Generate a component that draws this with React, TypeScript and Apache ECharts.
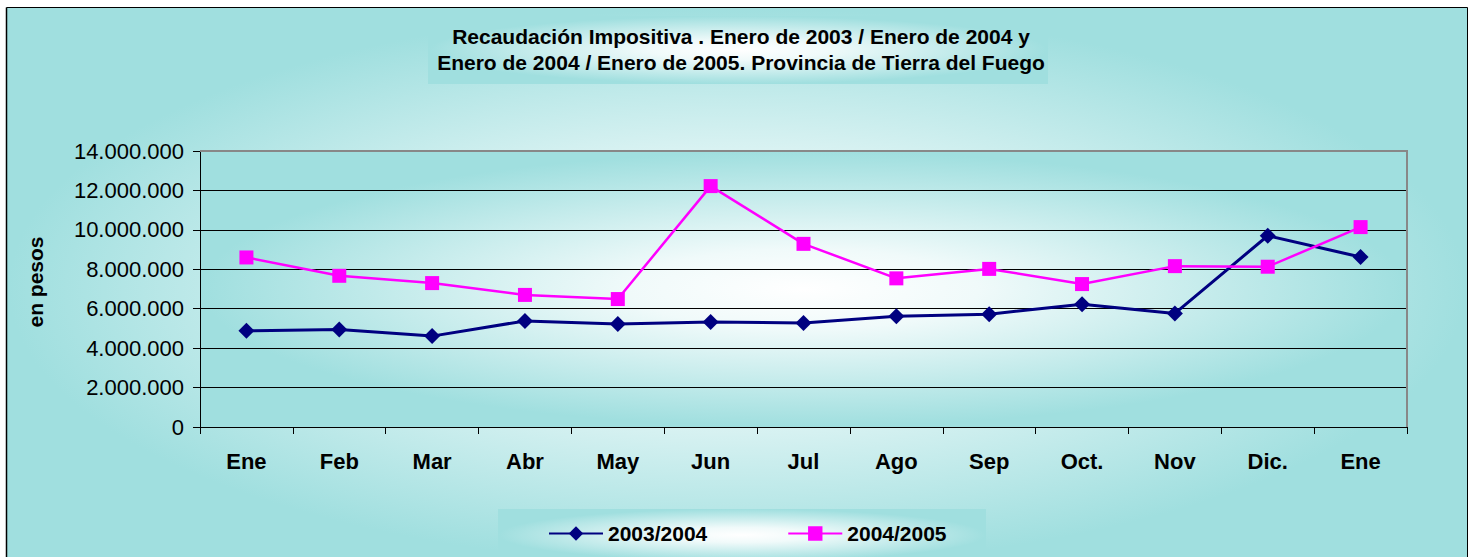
import React, { useEffect, useRef } from "react";
import * as echarts from "echarts";

const categories = ["Ene", "Feb", "Mar", "Abr", "May", "Jun", "Jul", "Ago", "Sep", "Oct.", "Nov", "Dic.", "Ene"];
const serie2003: number[] = [4880000, 4950000, 4610000, 5380000, 5220000, 5330000, 5280000, 5620000, 5720000, 6230000, 5760000, 9700000, 8620000];
const serie2004: number[] = [8600000, 7670000, 7300000, 6700000, 6490000, 12220000, 9290000, 7540000, 8020000, 7250000, 8160000, 8130000, 10140000];
const seriesNames = ["2003/2004", "2004/2005"];
const titleLines = [
  "Recaudación Impositiva . Enero de 2003 / Enero de 2004 y",
  "Enero de 2004 / Enero de 2005. Provincia de Tierra del Fuego",
];
const yAxisName = "en pesos";

const FONT = "'Liberation Sans', Arial, sans-serif";
const TEAL = "#a0dfdf";

function fmt(v: number): string {
  return Math.round(v).toString().replace(/\B(?=(\d{3})+(?!\d))/g, ".");
}

// rectangle with a stretched (elliptical) radial gradient, white at centre
function gradRect(x: number, y: number, w: number, h: number, z: number) {
  const s = w / h;
  return {
    type: "rect",
    x,
    y,
    scaleX: s,
    z,
    silent: true,
    shape: { x: 0, y: 0, width: h, height: h },
    style: {
      fill: {
        type: "radial",
        x: 0.5,
        y: 0.5,
        r: 0.58,
        colorStops: [
          { offset: 0, color: "#ffffff" },
          { offset: 0.25, color: "#f0fafa" },
          { offset: 0.86, color: TEAL },
          { offset: 1, color: TEAL },
        ],
      },
      stroke: "none",
    },
  };
}

export default function App() {
  const ref = useRef<HTMLDivElement>(null);
  useEffect(() => {
    if (!ref.current) return;
    const chart = echarts.init(ref.current, null, { renderer: "svg" });
    const gl = 200, gt = 151, gw = 1207, gh = 276;
    chart.setOption({
      animation: false,
      textStyle: { fontFamily: FONT },
      graphic: [
        gradRect(6.5, 7.5, 1461, 560, -30),
        { type: "line", z: -20, silent: true, shape: { x1: 6.5, y1: 7.5, x2: 1467.5, y2: 7.5 }, style: { stroke: "#000", lineWidth: 1 } },
        { type: "line", z: -20, silent: true, shape: { x1: 6.5, y1: 7.5, x2: 6.5, y2: 560 }, style: { stroke: "#000", lineWidth: 1.5 } },
        { type: "line", z: -20, silent: true, shape: { x1: 1467.5, y1: 7.5, x2: 1467.5, y2: 560 }, style: { stroke: "#000", lineWidth: 1 } },
        gradRect(428, 16, 620, 68, -25),
        gradRect(498, 509, 488, 52, -25),
        gradRect(gl, gt, gw, gh, -25),
        {
          type: "text",
          z: 10,
          x: 741,
          y: 49,
          style: {
            text: titleLines.join("\n"),
            fontFamily: FONT,
            fontWeight: "bold",
            fontSize: 21,
            lineHeight: 26,
            fill: "#000",
            align: "center",
            verticalAlign: "middle",
          },
        },
        {
          type: "text",
          z: 10,
          x: 35,
          y: 282,
          rotation: Math.PI / 2,
          style: {
            text: yAxisName,
            fontFamily: FONT,
            fontWeight: "bold",
            fontSize: 21,
            fill: "#000",
            align: "center",
            verticalAlign: "middle",
          },
        },
        {
          type: "polyline",
          z: 5,
          silent: true,
          shape: { points: [[gl, gt], [gl + gw, gt], [gl + gw, gt + gh]] },
          style: { stroke: "#888888", lineWidth: 2, fill: "none" },
        },
      ],
      legend: {
        left: 548,
        top: 523,
        padding: 0,
        itemWidth: 54,
        itemHeight: 18,
        itemGap: 80,
        textStyle: { fontFamily: FONT, fontWeight: "bold", fontSize: 21, color: "#000" },
        data: seriesNames,
      },
      grid: { left: gl, top: gt, width: gw, height: gh, containLabel: false, outerBoundsMode: "none" },
      xAxis: {
        type: "category",
        data: categories,
        boundaryGap: true,
        axisLine: { show: true, lineStyle: { color: "#000", width: 1 } },
        axisTick: { show: true, length: 7, alignWithLabel: false, interval: 0, lineStyle: { color: "#000" } },
        axisLabel: { interval: 0, margin: 23, fontFamily: FONT, fontWeight: "bold", fontSize: 22, color: "#000" },
        splitLine: { show: false },
      },
      yAxis: {
        type: "value",
        min: 0,
        max: 14000000,
        interval: 2000000,
        axisLine: { show: true, lineStyle: { color: "#000", width: 1 } },
        axisTick: { show: true, length: 7, lineStyle: { color: "#000" } },
        axisLabel: { margin: 16, fontFamily: FONT, fontSize: 22, color: "#000", formatter: (v: number) => fmt(v) },
        splitLine: { show: true, lineStyle: { color: "#000", width: 1 } },
      },
      series: [
        {
          name: seriesNames[0],
          type: "line",
          data: serie2003,
          symbol: "diamond",
          symbolSize: 16,
          lineStyle: { color: "#000080", width: 3 },
          itemStyle: { color: "#000080" },
        },
        {
          name: seriesNames[1],
          type: "line",
          data: serie2004,
          symbol: "rect",
          symbolSize: 14,
          lineStyle: { color: "#ff00ff", width: 2.5 },
          itemStyle: { color: "#ff00ff" },
        },
      ],
    });
    return () => chart.dispose();
  }, []);
  return <div ref={ref} style={{ width: 1473, height: 557, position: "absolute", left: 0, top: 0 }} />;
}
